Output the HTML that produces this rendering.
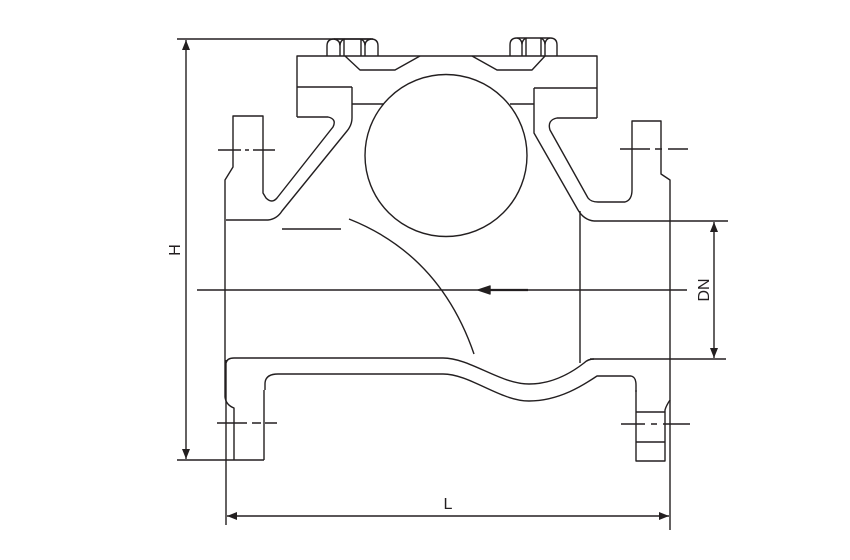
<!DOCTYPE html>
<html><head><meta charset="utf-8"><style>html,body{margin:0;padding:0;background:#fff}svg{display:block}</style></head>
<body>
<svg width="850" height="560" viewBox="0 0 850 560" xmlns="http://www.w3.org/2000/svg">
<defs>
<marker id="ar" markerWidth="10" markerHeight="8" refX="10" refY="4" orient="auto-start-reverse" markerUnits="userSpaceOnUse"><path d="M0,0 L10,4 L0,8 Z" fill="#231f20"/></marker>
</defs>
<g fill="none" stroke="#231f20" stroke-width="1.4" stroke-linejoin="round">
<!-- H dimension -->
<line x1="177" y1="39" x2="373" y2="39"/>
<line x1="177" y1="460" x2="264" y2="460"/>
<line x1="186" y1="40" x2="186" y2="459" marker-start="url(#ar)" marker-end="url(#ar)"/>
<!-- DN dimension -->
<line x1="594" y1="221" x2="728" y2="221"/>
<line x1="590" y1="359" x2="726" y2="359"/>
<line x1="714" y1="222" x2="714" y2="358" marker-start="url(#ar)" marker-end="url(#ar)"/>
<!-- L dimension -->
<line x1="226" y1="360" x2="226" y2="525"/>
<line x1="670" y1="400" x2="670" y2="530"/>
<line x1="227" y1="516" x2="669" y2="516" marker-start="url(#ar)" marker-end="url(#ar)"/>
<!-- nuts -->
<path d="M327,56 V46 Q327,39 334,39 H371 Q378,39 378,46 V56"/>
<path d="M340,56 V46 Q340,40 345,39 M365,56 V46 Q365,40 360,39 M340,46 Q340,40 334,39 M365,46 Q365,40 371,39 M344,39 V56 M361,39 V56"/>
<path d="M510,56 V45 Q510,38 517,38 H550 Q557,38 557,45 V56"/>
<path d="M522,56 V45 Q522,39 517,38 M545,56 V45 Q545,39 550,38 M522,45 Q522,39 527,38 M545,45 Q545,39 540,38 M526,38 V56 M541,38 V56"/>
<!-- cover -->
<path d="M297,117 V56 H597 V118"/>
<path d="M345,56 L360,70 H395 L420,56 M472,56 L497,70 H532 L545,56"/>
<line x1="297" y1="87" x2="352" y2="87"/>
<line x1="534" y1="88" x2="597" y2="88"/>
<line x1="352" y1="104" x2="384" y2="104"/>
<line x1="510" y1="104" x2="534" y2="104"/>
<circle cx="446" cy="155.5" r="81"/>
<!-- left upper body -->
<path d="M297,117 H328 Q337,119 333,127 L277,198 Q272,204 266,198 L263,193 V116 H233 V167 L225,180 V397 Q226,405 234,408 V460"/>
<path d="M352,87 V118 Q352,125 347,131 L282,211 Q277,219 268,220 H226"/>
<!-- right upper body -->
<path d="M597,118 H557 Q547,120 550,130 L588,198 Q591,202 598,202 H625 Q632,200 632,190 V121 H661 V174 L670,180 V400 Q666,406 665,410 V461 H636 V390"/>
<path d="M534,88 V133 L578,210 Q584,220 594,221"/>
<line x1="580" y1="211" x2="580" y2="363"/>
<line x1="636" y1="412" x2="665" y2="412"/>
<line x1="636" y1="442" x2="665" y2="442"/>
<!-- lower body -->
<path d="M226,363 Q227,358 234,358 H443 C470,358 500,384 529,384 C555,384 575,370 584,363 Q588,359 594,359"/>
<path d="M265,390 V384 Q265,374 278,374 H443 C470,374 500,401 529,401 C560,401 585,384 597,376 H631 Q636,377 636,385 V392"/>
<path d="M264,390 V460"/>
<!-- disc -->
<line x1="282" y1="229" x2="341" y2="229"/>
<path d="M349,219 Q440,255 474,354"/>
<!-- axis -->
<line x1="197" y1="290" x2="687" y2="290"/>
<line x1="480" y1="290" x2="528" y2="290" stroke-width="2.2"/>
<path d="M478,290 L490,286 L490,294 Z" fill="#231f20"/>
<!-- centerlines -->
<path d="M218,150 H241 M245,150 H249 M253,150 H275" />
<path d="M620,149 H650 M655,149 H662 M668,149 H688"/>
<path d="M217,423 H247 M252,423 H261 M265,423 H277"/>
<path d="M621,424 H645 M651,424 H657 M663,424 H690"/>
</g>
<g font-family="Liberation Sans, sans-serif" font-size="16" fill="#231f20">
<text x="448" y="509" text-anchor="middle">L</text>
<text transform="translate(180,250) rotate(-90)" text-anchor="middle">H</text>
<text transform="translate(709,290) rotate(-90)" text-anchor="middle">DN</text>
</g>
</svg>
</body></html>
